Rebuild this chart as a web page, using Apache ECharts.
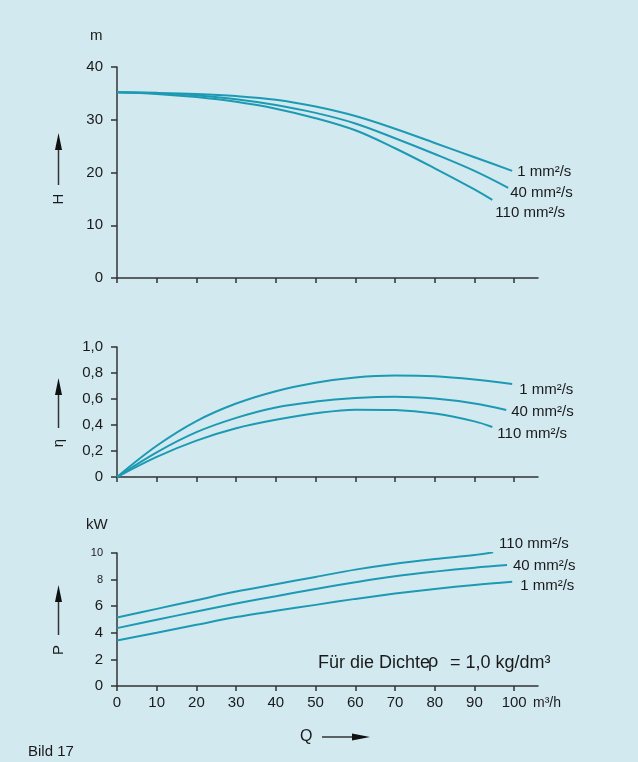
<!DOCTYPE html>
<html><head><meta charset="utf-8">
<script src="https://cdn.jsdelivr.net/npm/echarts@6/dist/echarts.min.js"></script>
<style>html,body{margin:0;padding:0;background:#d3e9f0}#c{width:638px;height:762px}</style>
</head><body><div id="c"></div>
<script>
// ---- data ----
const xTicks = [0,10,20,30,40,50,60,70,80,90,100];
const hTicks = [0,10,20,30,40];
const etaTicks = [0,0.2,0.4,0.6,0.8,1.0];
const pTicks = [0,2,4,6,8,10];
const seriesNames = ['1 mm²/s','40 mm²/s','110 mm²/s'];

// Head H (m)
const qH1 = [0,10,20,30,40,50,60,70,80,90,99.5];
const H1  = [35.2,35.1,34.9,34.5,33.8,32.5,30.7,28.3,25.6,22.9,20.3];
const qH40 = [0,10,20,30,40,50,60,70,80,90,98.5];
const H40  = [35.2,35.0,34.6,33.9,32.8,31.3,29.3,26.5,23.5,20.3,17.1];
const qH110 = [0,10,20,30,40,50,60,70,80,90,94.5];
const H110  = [35.2,34.9,34.3,33.4,32.1,30.3,28.0,24.6,20.8,16.8,14.8];

// Efficiency eta
const qE1 = [0,10,20,30,40,50,60,70,80,90,99.5];
const E1  = [0,0.24,0.43,0.565,0.66,0.725,0.765,0.78,0.775,0.75,0.715];
const qE40 = [0,10,20,30,40,50,60,70,80,90,98];
const E40  = [0,0.19,0.345,0.455,0.535,0.58,0.607,0.618,0.603,0.565,0.515];
const qE110 = [0,10,20,30,40,50,60,70,80,90,94.5];
const E110  = [0,0.155,0.28,0.375,0.44,0.49,0.518,0.515,0.488,0.428,0.385];

// Power P (kW)
const qP1 = [0,10,20,30,40,50,60,70,80,90,99.5];
const P1  = [3.42,4.0,4.6,5.18,5.65,6.1,6.55,6.95,7.3,7.6,7.83];
const qP40 = [0,10,20,30,40,50,60,70,80,90,98.2];
const P40  = [4.35,4.98,5.6,6.2,6.75,7.3,7.8,8.25,8.6,8.9,9.1];
const qP110 = [0,10,20,30,40,50,60,70,80,90,94.7];
const P110  = [5.15,5.8,6.45,7.1,7.65,8.2,8.75,9.2,9.55,9.85,10.05];

// ---- styles ----
const axisColor = '#333';
const textColor = '#1a1a1a';
const lineColor = '#1d9ab3';
const font = '"Liberation Sans", Arial, sans-serif';

function zip(q, v){ return q.map((x,i)=>[x, v[i]]); }

function xAx(gi, showLabels){
  return {type:'value', gridIndex:gi, min:0, max:106, interval:10,
    axisLine:{show:true, onZero:false, lineStyle:{color:axisColor, width:1.5}},
    axisTick:{show:true, length:5, customValues:xTicks, lineStyle:{color:axisColor, width:1.5}},
    axisLabel:{show:showLabels, customValues:xTicks, margin:9, fontSize:15, color:textColor, fontFamily:font},
    splitLine:{show:false}};
}
function yAx(gi, min, max, interval, ticks, fmt, rich){
  return {type:'value', gridIndex:gi, min:min, max:max, interval:interval,
    axisLine:{show:true, lineStyle:{color:axisColor, width:1.5}},
    axisTick:{show:true, length:6, customValues:ticks, lineStyle:{color:axisColor, width:1.5}},
    axisLabel:{show:true, customValues:ticks, margin:14, fontSize:15, color:textColor, fontFamily:font, formatter:fmt, rich:rich},
    splitLine:{show:false}};
}
function ser(gi, name, data, off){
  return {type:'line', xAxisIndex:gi, yAxisIndex:gi, name:name, data:data, smooth:0.35,
    showSymbol:false, symbol:'none', silent:true,
    lineStyle:{color:lineColor, width:2},
    endLabel:{show:true, formatter:name, distance:0, offset:off, color:textColor, fontSize:15, fontFamily:font},
    labelLayout:{hideOverlap:false}};
}
function arrowV(x, yTop, yBot){
  return {type:'group', children:[
    {type:'line', shape:{x1:x, y1:yBot, x2:x, y2:yTop+10}, style:{stroke:'#333', lineWidth:1.5}},
    {type:'polygon', shape:{points:[[x, yTop],[x-3.5, yTop+17],[x+3.5, yTop+17]]}, style:{fill:'#111'}}
  ]};
}
function txt(x, y, s, size, extra){
  return Object.assign({type:'text', x:x, y:y, style:{text:s, fontSize:size, fill:textColor, fontFamily:font, textVerticalAlign:'middle'}}, extra||{});
}
function rtxt(x, y, s){
  return {type:'text', x:x, y:y, rotation:Math.PI/2, style:{text:s, fontSize:15, fill:textColor, fontFamily:font, textAlign:'center', textVerticalAlign:'middle'}};
}

const chart = echarts.init(document.getElementById('c'));
chart.setOption({
  backgroundColor:'#d3e9f0',
  animation:false,
  grid:[
    {left:117, top:67, width:421, height:211},
    {left:117, top:347, width:421, height:130},
    {left:117, top:553, width:421, height:133}
  ],
  xAxis:[xAx(0,false), xAx(1,false), xAx(2,true)],
  yAxis:[
    yAx(0, 0, 40, 10, hTicks, v=>String(v)),
    yAx(1, 0, 1.0, 0.2, etaTicks, v=> v===0 ? '0' : v.toFixed(1).replace('.',',')),
    yAx(2, 0, 10, 2, pTicks, v=> v>=8 ? '{s|'+v+'}' : String(v), {s:{fontSize:11, color:textColor, fontFamily:font}})
  ],
  series:[
    ser(0, seriesNames[0], zip(qH1,H1), [5,1]),
    ser(0, seriesNames[1], zip(qH40,H40), [2,5]),
    ser(0, seriesNames[2], zip(qH110,H110), [3,13]),
    ser(1, seriesNames[0], zip(qE1,E1), [7,6]),
    ser(1, seriesNames[1], zip(qE40,E40), [5,2]),
    ser(1, seriesNames[2], zip(qE110,E110), [5,7]),
    ser(2, seriesNames[0], zip(qP1,P1), [8,4]),
    ser(2, seriesNames[1], zip(qP40,P40), [6,1]),
    ser(2, seriesNames[2], zip(qP110,P110), [6,-8])
  ],
  graphic:[
    txt(90, 36, 'm', 15),
    txt(86, 525, 'kW', 15),
    txt(533, 703, 'm³/h', 14),
    txt(318, 663, 'Für die Dichte', 18),
    txt(428, 662, 'ρ', 18),
    txt(450, 663, '= 1,0 kg/dm³', 18),
    txt(28, 752, 'Bild 17', 15),
    txt(300, 737, 'Q', 16),
    {type:'group', children:[
      {type:'line', shape:{x1:322, y1:737, x2:360, y2:737}, style:{stroke:'#333', lineWidth:1.5}},
      {type:'polygon', shape:{points:[[370,737],[352,733.5],[352,740.5]]}, style:{fill:'#111'}}
    ]},
    arrowV(58.5, 133, 185),
    arrowV(58.5, 378, 428),
    arrowV(58.5, 585, 635),
    rtxt(58.5, 199, 'H'),
    rtxt(58.5, 443, 'η'),
    rtxt(58.5, 650, 'P')
  ]
});
</script></body></html>
